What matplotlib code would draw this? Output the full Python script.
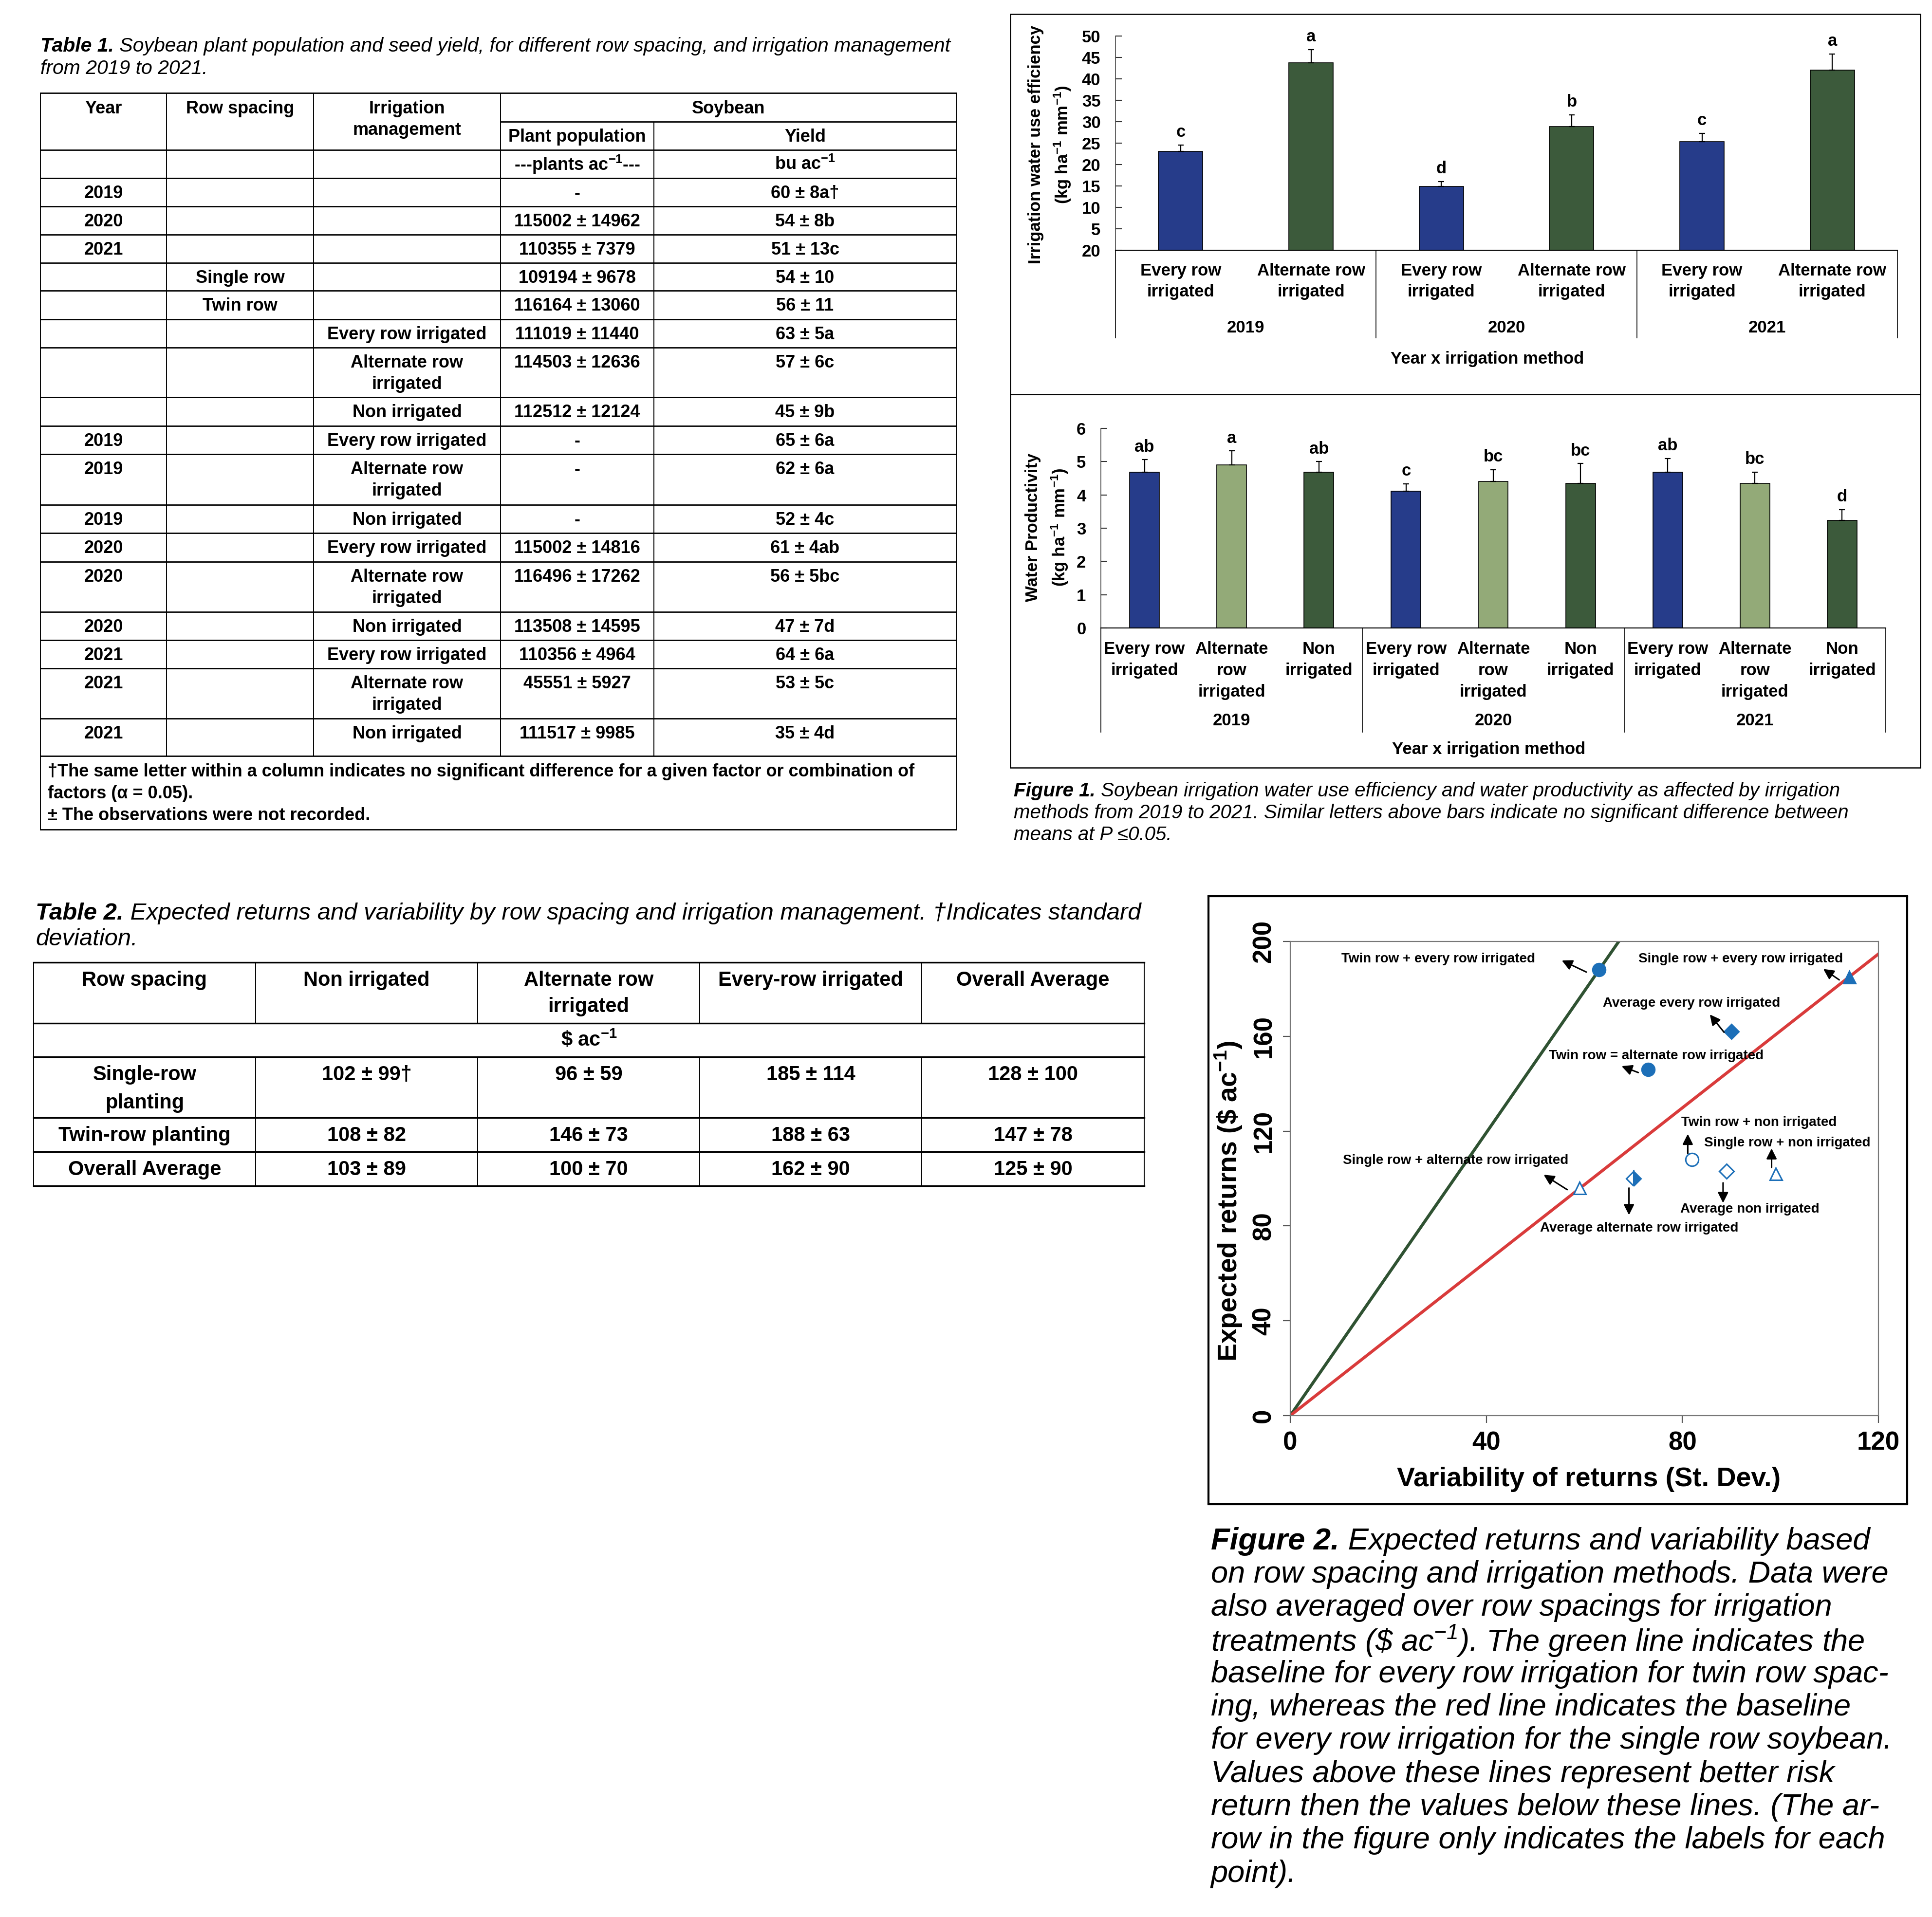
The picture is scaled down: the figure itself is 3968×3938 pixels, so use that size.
import numpy as np
import matplotlib
matplotlib.use("Agg")
import matplotlib.pyplot as plt
from matplotlib import transforms

plt.rcParams['font.family'] = ['Liberation Sans', 'DejaVu Sans']
plt.rcParams['mathtext.default'] = 'regular'

W, H = 3968, 3938

# ---------------- Table 1 data ----------------
t1_header = ['Year', 'Row spacing', 'Irrigation\nmanagement']
t1_year = ['2019', '2020', '2021', '', '', '', '', '',
           '2019', '2019', '2019', '2020', '2020', '2020', '2021', '2021', '2021']
t1_spacing = ['', '', '', 'Single row', 'Twin row', '', '', '',
              '', '', '', '', '', '', '', '', '']
t1_irrig = ['', '', '', '', '', 'Every row irrigated', 'Alternate row\nirrigated', 'Non irrigated',
            'Every row irrigated', 'Alternate row\nirrigated', 'Non irrigated',
            'Every row irrigated', 'Alternate row\nirrigated', 'Non irrigated',
            'Every row irrigated', 'Alternate row\nirrigated', 'Non irrigated']
t1_pop = ['-', '115002 ± 14962', '110355 ± 7379', '109194 ± 9678', '116164 ± 13060',
          '111019 ± 11440', '114503 ± 12636', '112512 ± 12124', '-', '-', '-',
          '115002 ± 14816', '116496 ± 17262', '113508 ± 14595', '110356 ± 4964',
          '45551 ± 5927', '111517 ± 9985']
t1_yield = ['60 ± 8a†', '54 ± 8b', '51 ± 13c', '54 ± 10', '56 ± 11', '63 ± 5a', '57 ± 6c',
            '45 ± 9b', '65 ± 6a', '62 ± 6a', '52 ± 4c', '61 ± 4ab', '56 ± 5bc', '47 ± 7d',
            '64 ± 6a', '53 ± 5c', '35 ± 4d']
t1_notes = ['†The same letter within a column indicates no significant difference for a given factor or combination of',
            'factors (α = 0.05).',
            '± The observations were not recorded.']

# ---------------- Table 2 data ----------------
t2_cols = ['Row spacing', 'Non irrigated', 'Alternate row\nirrigated', 'Every-row irrigated', 'Overall Average']
t2_rows = ['Single-row\nplanting', 'Twin-row planting', 'Overall Average']
t2_vals = [['102 ± 99†', '96 ± 59', '185 ± 114', '128 ± 100'],
           ['108 ± 82', '146 ± 73', '188 ± 63', '147 ± 78'],
           ['103 ± 89', '100 ± 70', '162 ± 90', '125 ± 90']]

# ---------------- Figure 1 data ----------------
years = ['2019', '2020', '2021']
iwue_methods = ['Every row\nirrigated', 'Alternate row\nirrigated']
iwue = [23.1, 43.7, 14.9, 28.9, 25.3, 42.0]
iwue_err = [1.5, 3.1, 1.1, 2.7, 2.0, 3.8]
iwue_letters = ['c', 'a', 'd', 'b', 'c', 'a']
iwue_ticklabels = ['20', '5', '10', '15', '20', '25', '30', '35', '40', '45', '50']

wp_methods = ['Every row\nirrigated', 'Alternate\nrow\nirrigated', 'Non\nirrigated']
wp = [4.69, 4.90, 4.68, 4.11, 4.40, 4.34, 4.68, 4.34, 3.23]
wp_err = [0.37, 0.42, 0.32, 0.22, 0.36, 0.60, 0.41, 0.34, 0.33]
wp_letters = ['ab', 'a', 'ab', 'c', 'bc', 'bc', 'ab', 'bc', 'd']

# ---------------- Figure 2 data ----------------
f2_labels = ['Twin row + every row irrigated', 'Single row + every row irrigated',
             'Average every row irrigated', 'Twin row = alternate row irrigated',
             'Single row + alternate row irrigated', 'Average alternate row irrigated',
             'Twin row + non irrigated', 'Single row + non irrigated', 'Average non irrigated']
f2_sd = [63, 114, 90, 73, 59, 70, 82, 99, 89]
f2_mean = [188, 185, 162, 146, 96, 100, 108, 102, 103]

BLUE = '#263c8a'
DKGREEN = '#3c5a3b'
LTGREEN = '#93aa78'
PTBLUE = '#1c6fb8'

fig = plt.figure(figsize=(W / 100, H / 100), dpi=100)
bg = fig.add_axes([0, 0, 1, 1])
bg.set_xlim(0, W)
bg.set_ylim(H, 0)
bg.axis('off')


def hline(x0, x1, y, lw=2.0, color='k'):
    bg.plot([x0, x1], [y, y], color=color, lw=lw, solid_capstyle='projecting')


def vline(x, y0, y1, lw=1.4, color='k'):
    bg.plot([x, x], [y0, y1], color=color, lw=lw, solid_capstyle='butt')


def cell(x, y, s, size, dy, weight='bold', ha='center'):
    for i, line in enumerate(s.split('\n')):
        bg.text(x, y + i * dy, line, fontsize=size, fontweight=weight, ha=ha, va='center')


def caption(x, y, bold, lines, size, dy):
    t = bg.text(x, y, bold, fontsize=size, fontweight='bold', style='italic', ha='left', va='center')
    bb = t.get_window_extent(fig.canvas.get_renderer())
    bg.text(bb.x1, y, lines[0], fontsize=size, style='italic', ha='left', va='center')
    for i, line in enumerate(lines[1:]):
        bg.text(x, y + (i + 1) * dy, line, fontsize=size, style='italic', ha='left', va='center')


# ================= Table 1 =================
caption(83, 95, 'Table 1.',
        [' Soybean plant population and seed yield, for different row spacing, and irrigation management',
         'from 2019 to 2021.'], 29.5, 46)

c1 = [83, 342, 644, 1028, 1343, 1964]
r1 = [366, 424, 482, 540, 597, 656, 714, 816, 875, 933, 1037, 1095, 1154, 1257, 1315, 1373, 1476, 1553]
fs1 = 26
for y in [191, 308, 366] + r1[1:]:
    hline(c1[0], c1[-1], y)
hline(c1[3], c1[-1], 250)
hline(c1[0], c1[-1], 1704)
for x in c1[1:4]:
    vline(x, 191, r1[-1])
vline(c1[4], 250, r1[-1])
vline(c1[0], 191, 1704)
vline(c1[-1], 191, 1704)

centers1 = [(c1[i] + c1[i + 1]) / 2 for i in range(5)]
for i, h in enumerate(t1_header):
    cell(centers1[i], 223, h, fs1, 44)
cell((c1[3] + c1[5]) / 2, 223, 'Soybean', fs1, 44)
cell(centers1[3], 281, 'Plant population', fs1, 44)
cell(centers1[4], 281, 'Yield', fs1, 44)
cell(centers1[3], 338, '---plants ac$^{-1}$---', fs1, 44)
cell(centers1[4], 338, 'bu ac$^{-1}$', fs1, 44)
for k in range(len(t1_year)):
    y = r1[k] + 31
    for j, col in enumerate([t1_year, t1_spacing, t1_irrig, t1_pop, t1_yield]):
        if col[k]:
            cell(centers1[j], y, col[k], fs1, 44)
for i, note in enumerate(t1_notes):
    cell(98, 1585 + i * 45, note, fs1, 44, ha='left')

# ================= Table 2 =================
caption(73, 1876, 'Table 2.',
        [' Expected returns and variability by row spacing and irrigation management. †Indicates standard',
         'deviation.'], 35.3, 53)
c2 = [69, 525, 981, 1437, 1893, 2350]
r2 = [1977, 2102, 2171, 2296, 2366, 2436]
fs2 = 30
for y in r2:
    hline(c2[0], c2[-1], y, lw=2.4)
vline(c2[0], r2[0], r2[-1])
vline(c2[-1], r2[0], r2[-1])
for x in c2[1:-1]:
    vline(x, r2[0], r2[1])
    vline(x, r2[2], r2[-1])
centers2 = [(c2[i] + c2[i + 1]) / 2 for i in range(5)]
for j, h in enumerate(t2_cols):
    cell(centers2[j], r2[0] + 37, h, fs2, 54)
cell((c2[0] + c2[-1]) / 2, 2136, '\\$ ac$^{-1}$', fs2, 54)
for i, name in enumerate(t2_rows):
    y = r2[i + 2] + 37
    cell(centers2[0], y, name, fs2, 58)
    for j, v in enumerate(t2_vals[i]):
        cell(centers2[j + 1], y, v, fs2, 58)

# ================= Figure 1 =================
bx0, bx1, by0, by1 = 2075, 3944, 29, 1577
hline(bx0, bx1, by0, lw=1.8)
hline(bx0, bx1, by1, lw=1.8)
hline(bx0, bx1, 810, lw=1.8)
vline(bx0, by0, by1, lw=1.8)
vline(bx1, by0, by1, lw=1.8)

fs_f1 = 25


def bar_panel(left, right, top, bottom, vals, errs, letters, colors, ymax, ticks, ticklabels):
    ax = fig.add_axes([left / W, 1 - bottom / H, (right - left) / W, (bottom - top) / H])
    n = len(vals)
    x = np.arange(n) + 0.5
    ax.bar(x, vals, width=0.34, color=colors, edgecolor='k', linewidth=1.2, zorder=2)
    ax.errorbar(x, vals, yerr=[np.zeros(n), errs], fmt='none', ecolor='k',
                elinewidth=1.6, capsize=4, capthick=1.6, zorder=3)
    for xi, v, e, l in zip(x, vals, errs, letters):
        ax.annotate(l, (xi, v + e), xytext=(0, 7), textcoords='offset points',
                    ha='center', va='bottom', fontsize=fs_f1, fontweight='bold')
    ax.set_xlim(0, n)
    ax.set_ylim(0, ymax)
    ax.set_xticks([])
    ax.set_yticks(ticks)
    ax.set_yticklabels(ticklabels, fontsize=fs_f1, fontweight='bold')
    ax.tick_params(axis='y', direction='in', length=9, width=1.5, pad=22, color='#333333')
    for s in ['top', 'right']:
        ax.spines[s].set_visible(False)
    ax.spines['left'].set_color('#444444')
    ax.spines['left'].set_linewidth(1.2)
    ax.spines['bottom'].set_linewidth(1.5)
    ax.patch.set_alpha(0)
    return ax, x


# top panel
ax1, x1 = bar_panel(2291, 3897, 74, 514, iwue, iwue_err, iwue_letters,
                    [BLUE, DKGREEN] * 3, 50, np.arange(0, 51, 5), iwue_ticklabels)
bl1 = transforms.blended_transform_factory(ax1.transData, bg.transData)
for g in range(4):
    ax1.plot([2 * g, 2 * g], [514, 694], transform=bl1, clip_on=False, color='k', lw=1.2)
for i, xi in enumerate(x1):
    for k, line in enumerate(iwue_methods[i % 2].split('\n')):
        ax1.text(xi, 556 + k * 43, line, transform=bl1, ha='center', va='center',
                 fontsize=fs_f1, fontweight='bold')
for g, yr in enumerate(years):
    ax1.text(2 * g + 1, 673, yr, transform=bl1, ha='center', va='center',
             fontsize=fs_f1, fontweight='bold')
bg.text(3055, 737, 'Year x irrigation method', ha='center', va='center', fontsize=fs_f1, fontweight='bold')
bg.text(2127, 297, 'Irrigation water use efficiency', rotation=90, ha='center', va='center',
        fontsize=fs_f1, fontweight='bold')
bg.text(2182, 297, '(kg ha$^{-1}$ mm$^{-1}$)', rotation=90, ha='center', va='center',
        fontsize=fs_f1, fontweight='bold')

# bottom panel
ax2, x2 = bar_panel(2261, 3873, 880, 1290, wp, wp_err, wp_letters,
                    [BLUE, LTGREEN, DKGREEN] * 3, 6, np.arange(0, 7), [str(t) for t in range(7)])
bl2 = transforms.blended_transform_factory(ax2.transData, bg.transData)
for g in range(4):
    ax2.plot([3 * g, 3 * g], [1290, 1504], transform=bl2, clip_on=False, color='k', lw=1.2)
for i, xi in enumerate(x2):
    for k, line in enumerate(wp_methods[i % 3].split('\n')):
        ax2.text(xi, 1333 + k * 44, line, transform=bl2, ha='center', va='center',
                 fontsize=fs_f1, fontweight='bold')
for g, yr in enumerate(years):
    ax2.text(3 * g + 1.5, 1480, yr, transform=bl2, ha='center', va='center',
             fontsize=fs_f1, fontweight='bold')
bg.text(3058, 1539, 'Year x irrigation method', ha='center', va='center', fontsize=fs_f1, fontweight='bold')
bg.text(2121, 1083, 'Water Productivity', rotation=90, ha='center', va='center',
        fontsize=fs_f1, fontweight='bold')
bg.text(2176, 1083, '(kg ha$^{-1}$ mm$^{-1}$)', rotation=90, ha='center', va='center',
        fontsize=fs_f1, fontweight='bold')

caption(2082, 1625, 'Figure 1.',
        [' Soybean irrigation water use efficiency and water productivity as affected by irrigation',
         'methods from 2019 to 2021. Similar letters above bars indicate no significant difference between',
         'means at P ≤0.05.'], 29, 45)

# ================= Figure 2 =================
hline(2482, 3917, 1841, lw=3)
hline(2482, 3917, 3090, lw=3)
vline(2482, 1841, 3090, lw=3)
vline(3917, 1841, 3090, lw=3)

ax3 = fig.add_axes([2650 / W, 1 - 2908 / H, (3858 - 2650) / W, (2908 - 1934) / H])
ax3.set_xlim(0, 120)
ax3.set_ylim(0, 200)
xx = np.array([0, 120])
ax3.plot(xx, xx * f2_mean[0] / f2_sd[0], color='#2f5232', lw=4.5, zorder=2)
ax3.plot(xx, xx * f2_mean[1] / f2_sd[1], color='#d93b3b', lw=4.5, zorder=2)

mk = ['o', '^', 'D', 'o', '^', 'D', 'o', '^', 'D']
fill = ['full', 'full', 'full', 'full', 'none', 'right', 'none', 'none', 'none']
msz = [19, 18, 15, 19, 18, 15, 19, 18, 15]
for i in range(len(f2_sd)):
    ax3.plot(f2_sd[i], f2_mean[i], marker=mk[i], ms=msz[i], color=PTBLUE, mec=PTBLUE,
             mfc=PTBLUE if fill[i] != 'none' else 'white', fillstyle=fill[i] if fill[i] != 'none' else 'full',
             mew=2.2, ls='none', zorder=4)

# label positions and arrows (tail near point, head near label)
lab_xy = [(10.4, 192.7), (71.0, 192.7), (63.8, 174.0), (52.7, 151.8), (10.7, 107.6),
          (51.0, 79.1), (79.8, 123.7), (84.4, 114.9), (79.6, 87.1)]
arr_tail = [(60.4, 187.1), (112.0, 183.8), (88.5, 161.7), (71.0, 144.7), (56.5, 95.3),
            (69.1, 96.0), (81.1, 110.6), (98.2, 104.7), (88.3, 98.2)]
arr_head = [(55.4, 192.0), (108.75, 188.4), (85.6, 169.2), (67.6, 147.4), (51.7, 101.6),
            (69.1, 84.6), (81.1, 118.8), (98.2, 112.7), (88.3, 89.7)]
for lab, (lx, ly), t, h in zip(f2_labels, lab_xy, arr_tail, arr_head):
    ax3.text(lx, ly, lab, ha='left', va='center', fontsize=20, fontweight='bold', zorder=5)
    ax3.annotate('', xy=h, xytext=t,
                 arrowprops=dict(arrowstyle='-|>', color='k', lw=2.2, mutation_scale=32,
                                 shrinkA=0, shrinkB=0), zorder=5)

ax3.set_xticks([0, 40, 80, 120])
ax3.set_xticklabels(['0', '40', '80', '120'], fontsize=38, fontweight='bold')
ax3.set_yticks([0, 40, 80, 120, 160, 200])
ax3.set_yticklabels(['0', '40', '80', '120', '160', '200'], fontsize=38, fontweight='bold',
                    rotation=90, va='center')
ax3.tick_params(axis='both', direction='out', length=11, width=1.6, color='#555555')
ax3.tick_params(axis='x', pad=12)
ax3.tick_params(axis='y', pad=10)
for s in ax3.spines.values():
    s.set_color('#777777')
    s.set_linewidth(1.6)
ax3.patch.set_alpha(0)
bg.text(3263, 3039, 'Variability of returns (St. Dev.)', ha='center', va='center',
        fontsize=40, fontweight='bold')
bg.text(2523, 2467, 'Expected returns (\\$ ac$^{-1}$)', rotation=90, ha='center', va='center',
        fontsize=40, fontweight='bold')

caption(2487, 3166, 'Figure 2.',
        [' Expected returns and variability based',
         'on row spacing and irrigation methods. Data were',
         'also averaged over row spacings for irrigation',
         'treatments (\\$ ac$^{-1}$). The green line indicates the',
         'baseline for every row irrigation for twin row spac-',
         'ing, whereas the red line indicates the baseline',
         'for every row irrigation for the single row soybean.',
         'Values above these lines represent better risk',
         'return then the values below these lines. (The ar-',
         'row in the figure only indicates the labels for each',
         'point).'], 45.5, 68.3)

fig.savefig('out.png', dpi=100)
